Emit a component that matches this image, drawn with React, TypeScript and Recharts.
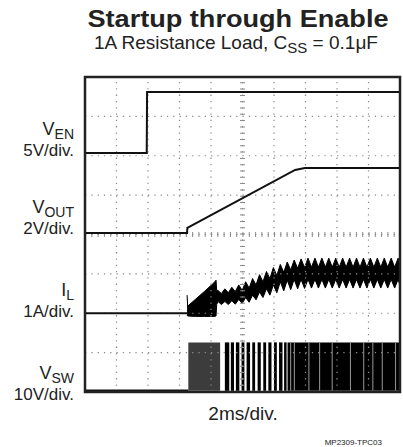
import { Area, ComposedChart, Line, ReferenceArea, ReferenceLine, XAxis, YAxis } from "recharts";

// scope screen: 10 x 8 divisions, values are in divisions
const xTicks = [0, 1, 2, 3, 4, 5, 6, 7, 8, 9, 10];
const yTicks = [0, 1, 2, 3, 4, 5, 6, 7, 8];

const venTrace = [
	[0, 6.07],
	[1.96, 6.07],
	[1.97, 7.62],
	[10, 7.62],
];

const voutTrace = [
	[0, 4.04],
	[3.24, 4.04],
	[3.25, 4.17],
	[6.67, 5.64],
	[6.98, 5.69],
	[10, 5.69],
];

const ilBaseline = [
	[0, 2.0],
	[3.24, 2.0],
];

// [t, low, high] of the inductor current band
const ilBand = [
	[3.24, 1.95, 2.46],
	[3.26, 1.93, 2.18],
	[3.5, 1.92, 2.35],
	[3.8, 1.92, 2.56],
	[4.1, 1.92, 2.78],
	[4.16, 1.93, 2.84],
	[4.18, 2.22, 2.58],
	[4.22, 2.3, 2.58],
	[4.33, 2.22, 2.5],
	[4.44, 2.3, 2.62],
	[4.55, 2.22, 2.52],
	[4.66, 2.32, 2.66],
	[4.77, 2.23, 2.55],
	[4.88, 2.35, 2.72],
	[4.99, 2.25, 2.58],
	[5.1, 2.4, 2.8],
	[5.21, 2.28, 2.64],
	[5.32, 2.46, 2.88],
	[5.43, 2.34, 2.72],
	[5.54, 2.54, 2.98],
	[5.65, 2.4, 2.8],
	[5.76, 2.62, 3.06],
	[5.87, 2.46, 2.88],
	[5.98, 2.72, 3.16],
	[6.09, 2.52, 2.96],
	[6.2, 2.8, 3.24],
	[6.31, 2.57, 3.04],
	[6.42, 2.84, 3.3],
	[6.53, 2.6, 3.1],
	[6.64, 2.86, 3.35],
	[6.75, 2.62, 3.14],
	[6.86, 2.86, 3.38],
	[6.97, 2.63, 3.16],
	[7.08, 2.86, 3.4],
	[7.19, 2.64, 3.17],
	[7.3, 2.86, 3.4],
	[7.41, 2.64, 3.17],
	[7.52, 2.86, 3.4],
	[7.63, 2.64, 3.17],
	[7.74, 2.86, 3.4],
	[7.85, 2.64, 3.17],
	[7.96, 2.86, 3.4],
	[8.07, 2.64, 3.17],
	[8.18, 2.86, 3.4],
	[8.29, 2.64, 3.17],
	[8.4, 2.86, 3.4],
	[8.51, 2.64, 3.17],
	[8.62, 2.86, 3.4],
	[8.73, 2.64, 3.17],
	[8.84, 2.86, 3.4],
	[8.95, 2.64, 3.17],
	[9.06, 2.86, 3.4],
	[9.17, 2.64, 3.17],
	[9.28, 2.86, 3.4],
	[9.39, 2.64, 3.17],
	[9.5, 2.86, 3.4],
	[9.61, 2.64, 3.17],
	[9.72, 2.86, 3.4],
	[9.83, 2.64, 3.17],
	[9.94, 2.86, 3.4],
	[10, 2.7, 3.2],
];

const vswBaseline = [
	[0, 0.04],
	[3.28, 0.04],
];
const vswLow = 0.03;
const vswHigh = 1.26;
const vswBurst = [3.28, 4.29];
const vswPulses = [
	[4.44, 4.58],
	[4.63, 4.73],
	[4.79, 4.9],
	[4.97, 5.06],
	[5.13, 5.24],
	[5.31, 5.4],
	[5.48, 5.58],
	[5.66, 5.75],
	[5.82, 5.92],
	[6.0, 6.09],
	[6.16, 6.27],
	[6.32, 6.4],
	[6.43, 10],
];
const vswGaps = [6.51, 6.63, 7.09, 7.43, 7.83, 8.41, 8.83, 9.12, 9.42, 9.84];

const toRows = (pts: number[][]) => pts.map(([t, v]) => ({ t, v }));
const bandRows = ilBand.map(([t, lo, hi]) => ({ t, band: [lo, hi] }));

const FONT = "'Liberation Sans', Arial, sans-serif";
const INK = "#111";
const GRID = "#8a8a8a";

// plot box of the scope screen
const PLOT = { left: 85, top: 77, width: 315, height: 315 };

const ChannelLabel = ({ y, main, sub, scale }: any) => (
	<g fontFamily={FONT} fill="#222" textAnchor="end">
		<text x={74} y={y} fontSize={18}>
			{main}
			<tspan dy={4} fontSize={14}>
				{sub}
			</tspan>
		</text>
		<text x={74} y={y + 21} fontSize={17}>
			{scale}
		</text>
	</g>
);

const App = () => {
	return (
		<div style={{ position: "absolute", left: 0, top: 0, width: 403, height: 447, background: "#fff" }}>
			<ComposedChart
				width={403}
				height={447}
				margin={{ top: PLOT.top, right: 403 - PLOT.left - PLOT.width, bottom: 447 - PLOT.top - PLOT.height, left: PLOT.left }}
			>
				<XAxis type="number" dataKey="t" domain={[0, 10]} ticks={xTicks} hide allowDataOverflow />
				<YAxis type="number" domain={[0, 8]} ticks={yTicks} hide allowDataOverflow />

				{xTicks.slice(1, -1).map((x) => (
					<ReferenceLine key={"vx" + x} x={x} stroke={GRID} strokeWidth={1.2} strokeDasharray="1.3 5" />
				))}
				{yTicks.slice(1, -1).map((y) => (
					<ReferenceLine key={"hy" + y} y={y} stroke={GRID} strokeWidth={1.2} strokeDasharray="1.3 5" />
				))}
				<ReferenceLine x={5} stroke={GRID} strokeWidth={5} strokeDasharray="1 5.3" />
				<ReferenceLine y={4} stroke={GRID} strokeWidth={5} strokeDasharray="1 5.3" />

				<ReferenceArea x1={vswBurst[0]} x2={vswBurst[1]} y1={vswLow} y2={vswHigh} fill="#3c3c3c" fillOpacity={1} stroke="none" />
				{vswPulses.map(([a, b], i) => (
					<ReferenceArea key={"p" + i} x1={a} x2={b} y1={vswLow} y2={vswHigh} fill="#000" fillOpacity={1} stroke="none" />
				))}
				{vswGaps.map((g, i) => (
					<ReferenceArea key={"g" + i} x1={g} x2={g + 0.035} y1={vswLow} y2={vswHigh} fill="#8a8a8a" fillOpacity={1} stroke="none" />
				))}

				<Line data={toRows(vswBaseline)} dataKey="v" stroke={INK} strokeWidth={2} dot={false} isAnimationActive={false} />
				<Line data={toRows(venTrace)} dataKey="v" stroke={INK} strokeWidth={2} dot={false} isAnimationActive={false} />
				<Line data={toRows(voutTrace)} dataKey="v" stroke={INK} strokeWidth={2} dot={false} isAnimationActive={false} />
				<Line data={toRows(ilBaseline)} dataKey="v" stroke={INK} strokeWidth={2} dot={false} isAnimationActive={false} />
				<Area data={bandRows} dataKey="band" stroke="#000" strokeWidth={1} fill="#000" fillOpacity={1} isAnimationActive={false} />
			</ComposedChart>

			<svg width={403} height={447} style={{ position: "absolute", left: 0, top: 0, pointerEvents: "none" }}>
				{/* screen border */}
				<rect x={PLOT.left} y={PLOT.top} width={PLOT.width} height={PLOT.height} fill="none" stroke="#222" strokeWidth={2.5} />

				<text x={238} y={27} textAnchor="middle" fontFamily={FONT} fontWeight="bold" fontSize={24} fill="#222" textLength={301} lengthAdjust="spacingAndGlyphs">
					Startup through Enable
				</text>
				<text x={236} y={48.5} textAnchor="middle" fontFamily={FONT} fontSize={19} fill="#222">
					1A Resistance Load, C
					<tspan dy={4} fontSize={15}>
						SS
					</tspan>
					<tspan dy={-4}> = 0.1μF</tspan>
				</text>

				<ChannelLabel y={135} main="V" sub="EN" scale="5V/div." />
				<ChannelLabel y={213} main="V" sub="OUT" scale="2V/div." />
				<ChannelLabel y={296} main="I" sub="L" scale="1A/div." />
				<ChannelLabel y={379} main="V" sub="SW" scale="10V/div." />

				<text x={243} y={420} textAnchor="middle" fontFamily={FONT} fontSize={19} fill="#222">
					2ms/div.
				</text>
				<text x={382} y={445} textAnchor="end" fontFamily={FONT} fontSize={8} fill="#222">
					MP2309-TPC03
				</text>
			</svg>
		</div>
	);
};

export default App;
